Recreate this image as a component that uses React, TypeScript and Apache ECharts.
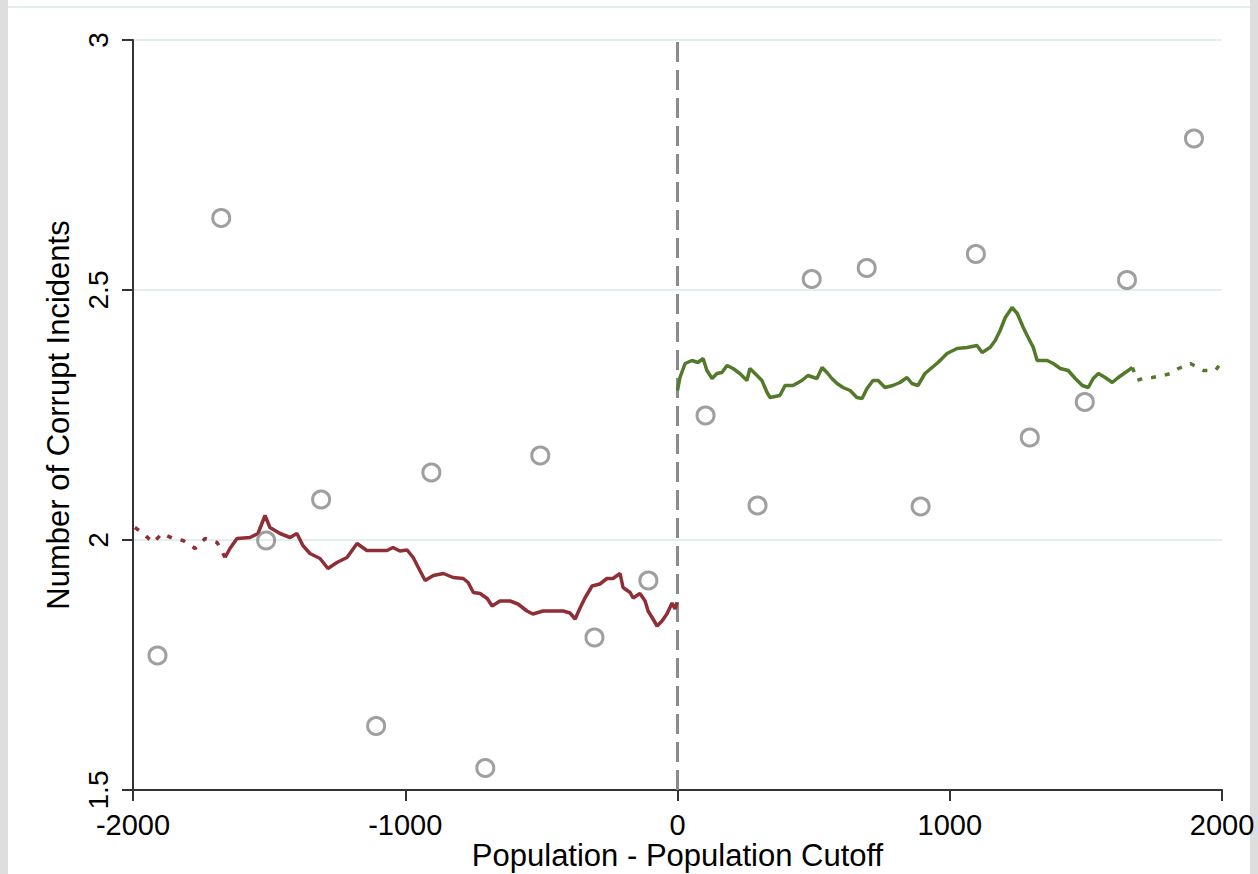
import React, { useEffect, useRef } from "react";
import * as echarts from "echarts";

const xTicks = [-2000, -1000, 0, 1000, 2000];
const yTicks = [1.5, 2, 2.5, 3];

const binX = [-1910, -1676, -1511, -1309, -1107, -904, -706, -504, -305, -107, 103, 294, 493, 695, 893, 1096, 1294, 1496, 1651, 1897];
const binY = [1.769, 2.644, 1.999, 2.081, 1.628, 2.135, 1.544, 2.169, 1.805, 1.919, 2.249, 2.069, 2.522, 2.544, 2.067, 2.572, 2.205, 2.276, 2.52, 2.803];

const redSparseX = [-1993, -1963, -1926, -1893, -1853, -1816, -1772, -1735, -1691, -1662];
const redSparseY = [2.025, 2.013, 1.995, 2.013, 2.003, 1.999, 1.983, 2.003, 1.995, 1.965];

const redX = [-1662, -1644, -1618, -1570, -1541, -1515, -1497, -1460, -1423, -1398, -1376, -1350, -1313, -1284, -1251, -1214, -1177, -1141, -1104, -1067, -1045, -1020, -993, -971, -952, -927, -897, -860, -824, -787, -769, -750, -725, -699, -681, -652, -615, -586, -553, -531, -494, -457, -420, -395, -376, -358, -340, -314, -285, -259, -237, -211, -200, -174, -163, -138, -119, -108, -90, -75, -57, -39, -20, -9, -2];
const redY = [1.965, 1.983, 2.003, 2.005, 2.013, 2.049, 2.025, 2.013, 2.005, 2.013, 1.989, 1.973, 1.963, 1.943, 1.955, 1.965, 1.993, 1.979, 1.979, 1.979, 1.985, 1.978, 1.98, 1.965, 1.945, 1.919, 1.929, 1.933, 1.925, 1.923, 1.915, 1.895, 1.893, 1.883, 1.868, 1.878, 1.878, 1.872, 1.858, 1.852, 1.858, 1.858, 1.858, 1.854, 1.842, 1.864, 1.884, 1.908, 1.912, 1.923, 1.923, 1.933, 1.905, 1.895, 1.884, 1.893, 1.878, 1.858, 1.842, 1.828, 1.838, 1.852, 1.874, 1.862, 1.875];

const greenX = [0, 9, 28, 53, 75, 94, 108, 127, 145, 163, 182, 204, 229, 255, 266, 292, 310, 329, 340, 376, 395, 424, 457, 479, 512, 531, 549, 567, 586, 608, 634, 659, 678, 696, 718, 737, 762, 791, 817, 843, 861, 883, 909, 935, 957, 990, 1027, 1064, 1100, 1119, 1148, 1167, 1185, 1204, 1229, 1248, 1259, 1270, 1288, 1307, 1321, 1358, 1380, 1406, 1435, 1461, 1487, 1509, 1527, 1546, 1571, 1597, 1619, 1645, 1671];
const greenY = [2.299, 2.325, 2.353, 2.359, 2.355, 2.363, 2.339, 2.323, 2.333, 2.335, 2.349, 2.343, 2.333, 2.319, 2.343, 2.329, 2.319, 2.295, 2.285, 2.289, 2.309, 2.309, 2.319, 2.329, 2.323, 2.345, 2.335, 2.323, 2.313, 2.305, 2.299, 2.285, 2.283, 2.303, 2.319, 2.319, 2.305, 2.309, 2.315, 2.325, 2.313, 2.309, 2.333, 2.345, 2.355, 2.373, 2.383, 2.385, 2.389, 2.375, 2.385, 2.399, 2.419, 2.445, 2.465, 2.453, 2.439, 2.425, 2.405, 2.385, 2.359, 2.359, 2.353, 2.343, 2.339, 2.323, 2.309, 2.305, 2.323, 2.333, 2.325, 2.315, 2.325, 2.335, 2.345];

const greenSparseX = [1671, 1689, 1708, 1744, 1785, 1810, 1840, 1884, 1932, 1976, 1994];
const greenSparseY = [2.345, 2.319, 2.323, 2.325, 2.329, 2.333, 2.343, 2.353, 2.339, 2.339, 2.353];

const xTitle = "Population - Population Cutoff";
const yTitle = "Number of Corrupt Incidents";

const zip = (xs: number[], ys: number[]) => xs.map((x, i) => [x, ys[i]]);

const RED = "#8e2f36";
const GREEN = "#527a2a";
const FONT = "Liberation Sans, Arial, sans-serif";

export default function App() {
  const ref = useRef<HTMLDivElement>(null);
  useEffect(() => {
    if (!ref.current) return;
    const chart = echarts.init(ref.current, null, { renderer: "svg" });
    chart.setOption({
      animation: false,
      backgroundColor: "#ffffff",
      graphic: [
        { type: "rect", shape: { x: 0, y: 0, width: 8, height: 874 }, style: { fill: "#dedede" }, silent: true },
        { type: "rect", shape: { x: 1250, y: 0, width: 8, height: 874 }, style: { fill: "#dedede" }, silent: true },
        { type: "line", shape: { x1: 8, y1: 7, x2: 1250, y2: 7 }, style: { stroke: "#e4eef0", lineWidth: 2 }, silent: true },
      ],
      grid: { left: 133, top: 40, right: 36, bottom: 84, containLabel: false, outerBoundsMode: "none" },
      xAxis: {
        type: "value",
        min: xTicks[0],
        max: xTicks[xTicks.length - 1],
        interval: 1000,
        name: xTitle,
        nameLocation: "middle",
        nameGap: 50,
        nameMoveOverlap: false,
        nameTextStyle: { fontFamily: FONT, fontSize: 31, lineHeight: 31, color: "#000" },
        axisLine: { show: true, onZero: false, lineStyle: { color: "#333333", width: 2 } },
        axisTick: { show: true, length: 11, lineStyle: { color: "#333333", width: 2 } },
        axisLabel: { fontFamily: FONT, fontSize: 29, lineHeight: 29, color: "#000", margin: 20, formatter: (v: number) => String(v) },
        splitLine: { show: false },
      },
      yAxis: {
        type: "value",
        min: yTicks[0],
        max: yTicks[yTicks.length - 1],
        interval: 0.5,
        name: yTitle,
        nameLocation: "middle",
        nameRotate: 90,
        nameGap: 59,
        nameMoveOverlap: false,
        nameTextStyle: { fontFamily: FONT, fontSize: 31, color: "#000" },
        axisLine: { show: true, onZero: false, lineStyle: { color: "#333333", width: 2 } },
        axisTick: { show: true, length: 11, lineStyle: { color: "#333333", width: 2 } },
        axisLabel: { fontFamily: FONT, fontSize: 28, color: "#000", rotate: 90, margin: 21, formatter: (v: number) => String(v) },
        splitLine: { show: true, lineStyle: { color: "#e4eef0", width: 2 } },
      },
      series: [
        {
          type: "line",
          data: [[0, yTicks[0]], [0, yTicks[yTicks.length - 1]]],
          showSymbol: false,
          lineStyle: { color: "#8a8a8a", width: 3, type: [20, 8] },
          silent: true,
          z: 1,
        },
        {
          type: "line",
          data: zip(redSparseX, redSparseY),
          showSymbol: false,
          lineStyle: { color: RED, width: 3.5, type: [5, 9] },
          z: 2,
        },
        {
          type: "line",
          data: zip(redX, redY),
          showSymbol: false,
          lineStyle: { color: RED, width: 3.5 },
          z: 2,
        },
        {
          type: "line",
          data: zip(greenX, greenY),
          showSymbol: false,
          lineStyle: { color: GREEN, width: 3.5 },
          z: 2,
        },
        {
          type: "line",
          data: zip(greenSparseX, greenSparseY),
          showSymbol: false,
          lineStyle: { color: GREEN, width: 3.5, type: [5, 9] },
          z: 2,
        },
        {
          type: "scatter",
          data: zip(binX, binY),
          symbol: "circle",
          symbolSize: 17,
          itemStyle: { color: "rgba(255,255,255,0)", borderColor: "#878787", borderWidth: 3 },
          z: 3,
        },
      ],
    });
    return () => chart.dispose();
  }, []);
  return <div ref={ref} style={{ position: "fixed", left: 0, top: 0, width: 1258, height: 874 }} />;
}
